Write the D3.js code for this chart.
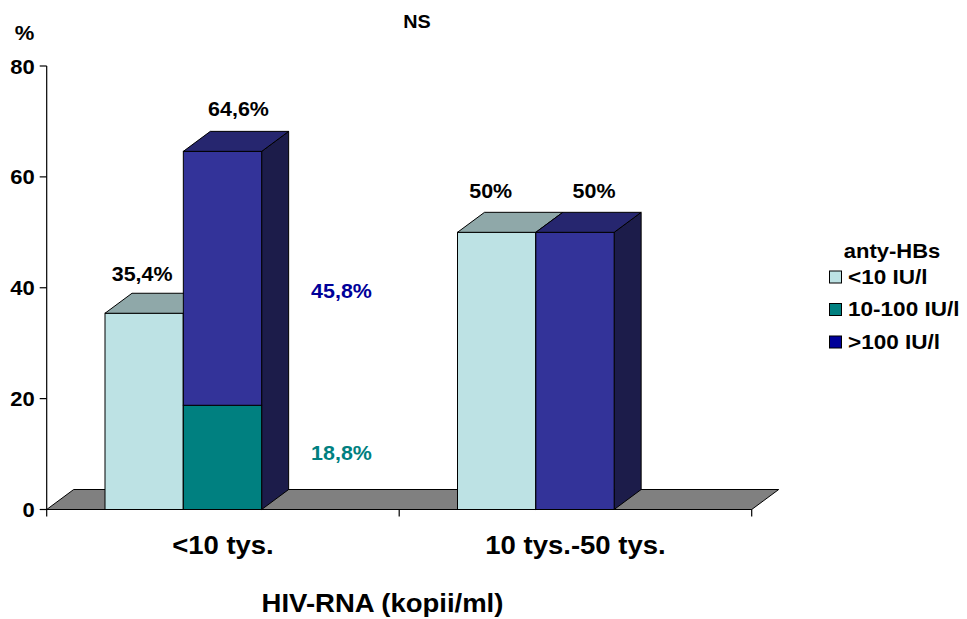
<!DOCTYPE html>
<html>
<head>
<meta charset="utf-8">
<script src="https://cdn.jsdelivr.net/npm/d3@7"></script>
<style>
  html, body { margin: 0; padding: 0; background: #fff; }
  svg { display: block; }
  text { font-family: "Liberation Sans", Arial, sans-serif; font-weight: bold; }
</style>
</head>
<body>
<svg id="chart" width="967" height="619"></svg>
<script>
// ---- data ----
const categories = ["<10 tys.", "10 tys.-50 tys."];
const seriesNames = ["<10 IU/l", "10-100 IU/l", ">100 IU/l"];
const lowValues = [35.4, 50];    // <10 IU/l   (left column)
const midValues = [18.8, 0];     // 10-100 IU/l (right column, bottom)
const highValues = [45.8, 50];   // >100 IU/l  (right column, top)
const yTicks = [0, 20, 40, 60, 80];
const xTitle = "HIV-RNA (kopii/ml)";
const yTitle = "%";
const topNote = "NS";
const legendTitle = "anty-HBs";

// ---- styles ----
const colors = {
  low:  { front: "#bde2e4", top: "#8fa8a9", side: "#7f9c9d" },
  mid:  { front: "#008080", top: "#005c5c", side: "#1c1c4a" },
  high: { front: "#333399", top: "#26266f", side: "#1c1c4a" },
  floor: "#808080"
};
const legendColors = ["#bde2e4", "#008080", "#000099"];
const sideLabelColors = { high: "#000099", mid: "#008080" };
const depth = { dx: 27, dy: -20 };
const textScaleX = 1.1;

const svg = d3.select("#chart");
const plot = { left: 46.7, right: 751.7, top: 66, bottom: 509.5 };

const y = d3.scaleLinear().domain([0, 80]).range([plot.bottom, plot.top]);
const x = d3.scaleBand().domain(categories).range([plot.left, plot.right]).padding(0);
const bw = x.bandwidth();
const slot = d3.scaleBand().domain([0, 1])
  .range([0.1654 * bw, 0.1654 * bw + 2 * 0.2222 * bw]).padding(0);

const fmt = d3.formatLocale({ decimal: ",", thousands: " ", grouping: [3], currency: ["", ""] });
const pct = v => fmt.format("~f")(+v.toFixed(1)) + "%";

// text with a slight horizontal stretch
function label(g, txt, px, py, size, anchor, fill) {
  return g.append("text")
    .attr("transform", `translate(${px},${py}) scale(${textScaleX},1)`)
    .attr("text-anchor", anchor || "middle")
    .attr("font-size", size)
    .attr("fill", fill || "#000")
    .text(txt);
}

// ---- floor ----
const floorG = svg.append("g");
floorG.append("path")
  .attr("d", `M${plot.left},${plot.bottom} L${plot.right},${plot.bottom} L${plot.right + depth.dx},${plot.bottom + depth.dy} L${plot.left + depth.dx},${plot.bottom + depth.dy} Z`)
  .attr("fill", colors.floor).attr("stroke", "#000").attr("stroke-width", 1);

// ---- axes ----
const axisG = svg.append("g");
axisG.append("line")
  .attr("x1", plot.left).attr("x2", plot.left)
  .attr("y1", plot.top).attr("y2", plot.bottom + 7)
  .attr("stroke", "#000").attr("stroke-width", 1.2);
yTicks.forEach(t => {
  axisG.append("line")
    .attr("x1", plot.left - 7).attr("x2", plot.left)
    .attr("y1", y(t)).attr("y2", y(t))
    .attr("stroke", "#000").attr("stroke-width", 1.2);
  label(axisG, String(t), plot.left - 12, y(t) + 7.5, 20, "end");
});
axisG.append("line")
  .attr("x1", plot.left).attr("x2", plot.right)
  .attr("y1", plot.bottom).attr("y2", plot.bottom)
  .attr("stroke", "#000").attr("stroke-width", 1.2);
categories.forEach(c => {
  const xe = x(c) + bw;
  axisG.append("line")
    .attr("x1", xe).attr("x2", xe)
    .attr("y1", plot.bottom).attr("y2", plot.bottom + 7)
    .attr("stroke", "#000").attr("stroke-width", 1.2);
  label(axisG, c, x(c) + bw / 2, 553.5, 25, "middle");
});
label(svg, xTitle, (plot.left + plot.right) / 2 - 16.7, 612, 25, "middle");
label(svg, yTitle, 24.5, 40, 20, "middle");
label(svg, topNote, 417, 28, 18, "middle");

// ---- 3D bar segment ----
function box(g, x0, w, v0, v1, col, drawTop, drawSide) {
  const y0 = y(v0), y1 = y(v1);
  g.append("rect").attr("x", x0).attr("y", y1).attr("width", w).attr("height", y0 - y1)
    .attr("fill", col.front).attr("stroke", "#000").attr("stroke-width", 1);
  if (drawSide) {
    g.append("path")
      .attr("d", `M${x0 + w},${y0} L${x0 + w + depth.dx},${y0 + depth.dy} L${x0 + w + depth.dx},${y1 + depth.dy} L${x0 + w},${y1} Z`)
      .attr("fill", col.side).attr("stroke", "#000").attr("stroke-width", 1);
  }
  if (drawTop) {
    g.append("path")
      .attr("d", `M${x0},${y1} L${x0 + w},${y1} L${x0 + w + depth.dx},${y1 + depth.dy} L${x0 + depth.dx},${y1 + depth.dy} Z`)
      .attr("fill", col.top).attr("stroke", "#000").attr("stroke-width", 1);
  }
}

// label placement relative to bar centre / top: [dx, dy]
const topLabelOffsets = [[[-2, -32], [16, -35]], [[-6, -34], [19, -34]]];
const sideLabelOffset = { dx: 119, high: 20, mid: 3 };

const barsG = svg.append("g");
categories.forEach((c, i) => {
  const w = slot.bandwidth();
  const xa = x(c) + slot(0);
  const xb = x(c) + slot(1);
  // left column
  box(barsG, xa, w, 0, lowValues[i], colors.low, true, true);
  // right column: stacked
  const total = midValues[i] + highValues[i];
  // side face of the whole column
  barsG.append("path")
    .attr("d", `M${xb + w},${y(0)} L${xb + w + depth.dx},${y(0) + depth.dy} L${xb + w + depth.dx},${y(total) + depth.dy} L${xb + w},${y(total)} Z`)
    .attr("fill", colors.high.side).attr("stroke", "#000").attr("stroke-width", 1);
  if (midValues[i] > 0) box(barsG, xb, w, 0, midValues[i], colors.mid, false, false);
  box(barsG, xb, w, midValues[i], total, colors.high, true, false);

  // value labels
  const off = topLabelOffsets[i];
  label(barsG, pct(lowValues[i]), xa + w / 2 + off[0][0], y(lowValues[i]) + off[0][1], 19.5, "middle");
  label(barsG, pct(total), xb + w / 2 + off[1][0], y(total) + off[1][1], 19.5, "middle");
  if (midValues[i] > 0) {
    label(barsG, pct(highValues[i]), xb + w / 2 + sideLabelOffset.dx,
      y(midValues[i] + highValues[i] / 2) + sideLabelOffset.high, 19.5, "middle", sideLabelColors.high);
    label(barsG, pct(midValues[i]), xb + w / 2 + sideLabelOffset.dx,
      y(midValues[i] / 2) + sideLabelOffset.mid, 19.5, "middle", sideLabelColors.mid);
  }
});

// ---- legend ----
const legendG = svg.append("g");
label(legendG, legendTitle, 892, 258, 20, "middle");
seriesNames.forEach((s, k) => {
  const base = 283.5 + k * 32.5;
  legendG.append("rect")
    .attr("x", 829.5).attr("y", base - 12.5).attr("width", 12).attr("height", 12)
    .attr("fill", legendColors[k]).attr("stroke", "#000").attr("stroke-width", 1);
  label(legendG, s, 848, base, 20.5, "start");
});
</script>
</body>
</html>
